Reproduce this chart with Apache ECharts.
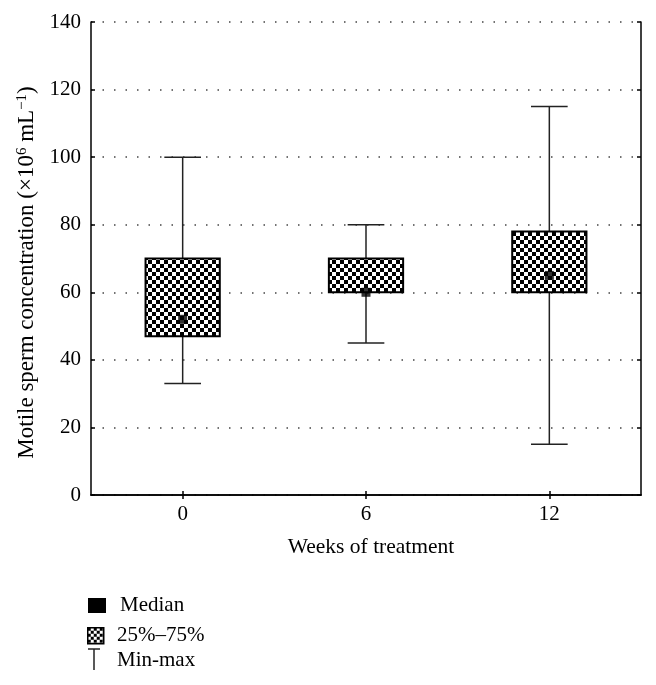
<!DOCTYPE html>
<html>
<head>
<meta charset="utf-8">
<script src="https://cdn.jsdelivr.net/npm/echarts@6/dist/echarts.min.js"></script>
<style>
html,body{margin:0;padding:0;background:#fff;}
#main{width:656px;height:685px;}
</style>
</head>
<body>
<div id="main"></div>
<script>
const categories = ['0', '6', '12'];
const minVals = [33, 45, 15];
const q1Vals = [47, 60, 60];
const medianVals = [52, 60, 65];
const q3Vals = [70, 70, 78];
const maxVals = [100, 80, 115];
const yTicks = [0, 20, 40, 60, 80, 100, 120, 140];

const FONT = 'Liberation Serif';

function makeChecker(cell) {
  const c = document.createElement('canvas');
  c.width = cell * 2; c.height = cell * 2;
  const g = c.getContext('2d');
  g.fillStyle = '#fff'; g.fillRect(0, 0, c.width, c.height);
  g.fillStyle = '#000';
  g.fillRect(0, 0, cell, cell);
  g.fillRect(cell, cell, cell, cell);
  return c;
}
const checker = makeChecker(4);
const checkerSmall = makeChecker(3);

const boxData = categories.map((c, i) => [i, minVals[i], q1Vals[i], medianVals[i], q3Vals[i], maxVals[i]]);
const medianData = categories.map((c, i) => [i, medianVals[i]]);

function renderBox(params, api) {
  const i = api.value(0);
  const band = api.size([1, 0])[0];
  const boxW = band * 0.405;
  const capW = band * 0.2;
  const pMin = api.coord([i, api.value(1)]);
  const pQ1 = api.coord([i, api.value(2)]);
  const pQ3 = api.coord([i, api.value(4)]);
  const pMax = api.coord([i, api.value(5)]);
  const x = pMin[0];
  const lineStyle = { stroke: '#222', lineWidth: 1.5 };
  return {
    type: 'group',
    children: [
      { type: 'line', shape: { x1: x, y1: pMin[1], x2: x, y2: pMax[1] }, style: lineStyle },
      { type: 'line', shape: { x1: x - capW / 2, y1: pMin[1], x2: x + capW / 2, y2: pMin[1] }, style: lineStyle },
      { type: 'line', shape: { x1: x - capW / 2, y1: pMax[1], x2: x + capW / 2, y2: pMax[1] }, style: lineStyle },
      { type: 'rect', shape: { x: x - boxW / 2, y: pQ3[1], width: boxW, height: pQ1[1] - pQ3[1] },
        style: { fill: { image: checker, repeat: 'repeat' }, stroke: '#000', lineWidth: 2 } }
    ]
  };
}

const chart = echarts.init(document.getElementById('main'), null, { renderer: 'canvas' });

const axisLine = { show: true, lineStyle: { color: '#000', width: 1.5 } };

chart.setOption({
  animation: false,
  backgroundColor: '#fff',
  grid: { left: 91, right: 15, top: 22, bottom: 190, containLabel: false },
  xAxis: [
    {
      type: 'category', data: categories, position: 'bottom',
      axisLine: axisLine,
      axisTick: { show: true, inside: true, alignWithLabel: true, length: 4, lineStyle: { color: '#000', width: 1.5 } },
      axisLabel: { fontFamily: FONT, fontSize: 21, color: '#000', margin: 9 },
      name: 'Weeks of treatment', nameLocation: 'middle', nameGap: 41,
      nameTextStyle: { fontFamily: FONT, fontSize: 21.5, color: '#000', padding: [0, 0, 0, 10] },
      splitLine: { show: false }
    },
    {
      type: 'category', data: categories, position: 'top',
      axisLine: axisLine,
      axisTick: { show: true, inside: true, alignWithLabel: true, length: 4, lineStyle: { color: '#000', width: 1.5 } },
      axisLabel: { show: false },
      splitLine: { show: false }
    }
  ],
  yAxis: [
    {
      type: 'value', min: yTicks[0], max: yTicks[yTicks.length - 1], interval: yTicks[1] - yTicks[0],
      position: 'left',
      axisLine: axisLine,
      axisTick: { show: true, inside: true, length: 4, lineStyle: { color: '#000', width: 1.5 } },
      axisLabel: { fontFamily: FONT, fontSize: 21, color: '#000', margin: 10 },
      splitLine: { show: true, lineStyle: { color: '#444', width: 1.5, type: [1.5, 10] } },
      name: 'Motile sperm concentration (×10{sup|6} mL{sup|−1})',
      nameLocation: 'middle', nameGap: 46,
      nameTextStyle: {
        fontFamily: FONT, fontSize: 23, color: '#000', lineHeight: 24, padding: [0, 28, 0, 0],
        rich: { sup: { fontFamily: FONT, fontSize: 15, color: '#000', verticalAlign: 'top', lineHeight: 24, padding: [0, 0, 8, 0] } }
      }
    },
    {
      type: 'value', min: yTicks[0], max: yTicks[yTicks.length - 1], interval: yTicks[1] - yTicks[0],
      position: 'right',
      axisLine: axisLine,
      axisTick: { show: true, inside: true, length: 4, lineStyle: { color: '#000', width: 1.5 } },
      axisLabel: { show: false },
      splitLine: { show: false }
    }
  ],
  series: [
    {
      name: '25%–75%', type: 'custom', xAxisIndex: 0, yAxisIndex: 0,
      renderItem: renderBox, data: boxData,
      encode: { x: 0, y: [1, 2, 3, 4, 5] }, z: 3
    },
    {
      name: 'Median', type: 'scatter', xAxisIndex: 0, yAxisIndex: 0,
      data: medianData, symbol: 'rect', symbolSize: 9,
      itemStyle: { color: '#000' }, z: 5
    }
  ],
  graphic: [
    { type: 'rect', left: 88, top: 598, shape: { width: 18, height: 15 }, style: { fill: '#000' } },
    { type: 'text', left: 120, top: 595, style: { text: 'Median', fontFamily: FONT, fontSize: 21, fill: '#000' } },
    { type: 'rect', left: 87, top: 627, shape: { width: 16, height: 16 }, style: { fill: { image: checkerSmall, repeat: 'repeat' }, stroke: '#000', lineWidth: 1.5 } },
    { type: 'text', left: 117, top: 625, style: { text: '25%–75%', fontFamily: FONT, fontSize: 21, fill: '#000' } },
    { type: 'line', shape: { x1: 88, y1: 649, x2: 100, y2: 649 }, style: { stroke: '#222', lineWidth: 1.5 } },
    { type: 'line', shape: { x1: 94, y1: 649, x2: 94, y2: 670 }, style: { stroke: '#222', lineWidth: 1.5 } },
    { type: 'text', left: 117, top: 650, style: { text: 'Min-max', fontFamily: FONT, fontSize: 21, fill: '#000' } }
  ]
});
</script>
</body>
</html>
